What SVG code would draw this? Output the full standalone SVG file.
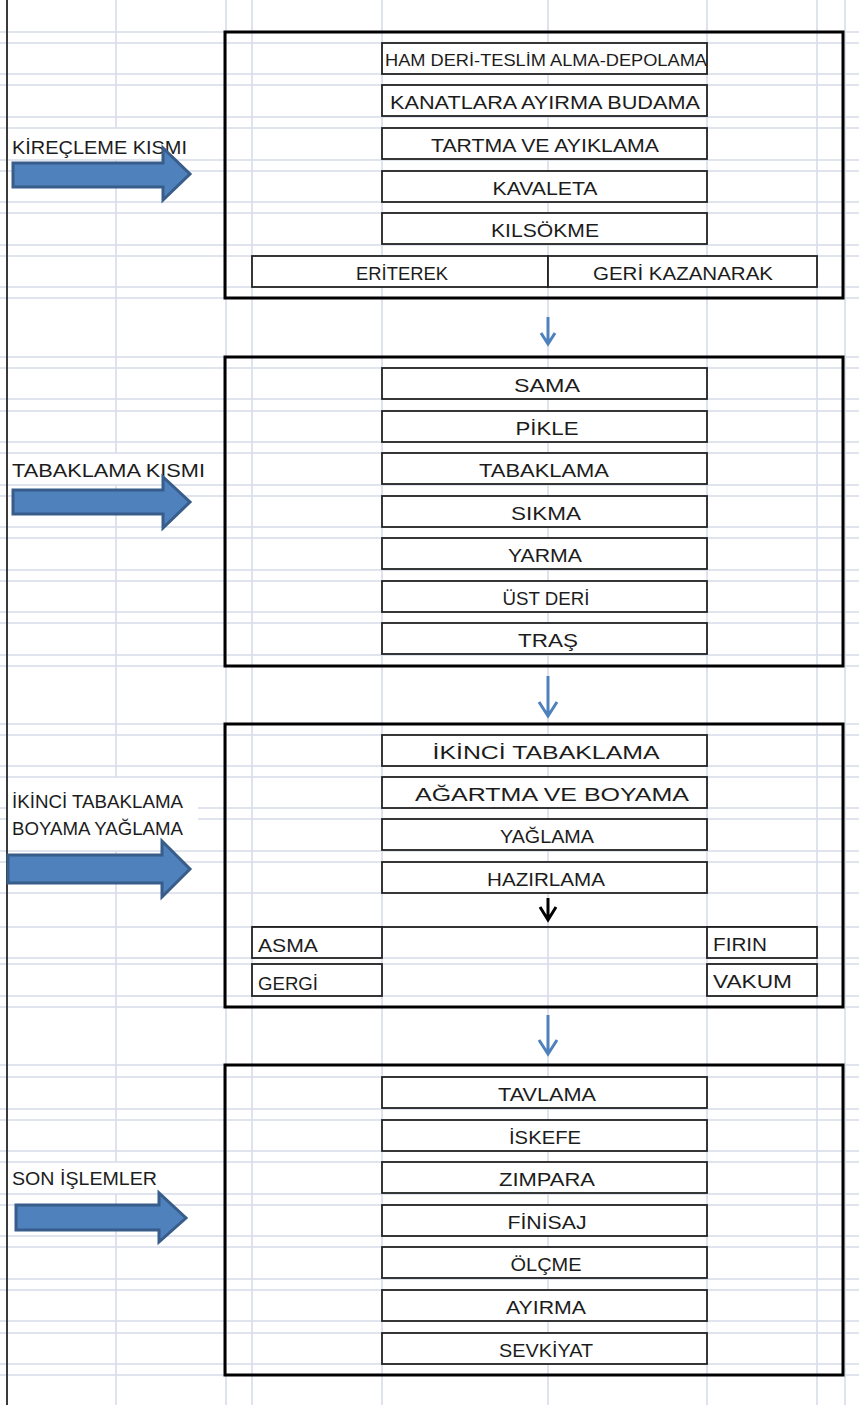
<svg xmlns="http://www.w3.org/2000/svg" width="859" height="1405" viewBox="0 0 859 1405">
<style>
.g{stroke:#D6DCE9;stroke-width:1.6;fill:none}
.ob{fill:none;stroke:#000;stroke-width:3}
.ib{fill:#fff;stroke:#222;stroke-width:1.8}
.t{font-family:"Liberation Sans",Arial,sans-serif;font-size:19px;fill:#1c1c1c}
.c{text-anchor:middle}
.ba{fill:#4F81BD;stroke:#385D8A;stroke-width:3;stroke-linejoin:miter}
.ta{fill:none;stroke:#4F81BD;stroke-width:3}
.tk{fill:none;stroke:#000;stroke-width:3}
</style>
<rect width="859" height="1405" fill="#fff"/>
<g id="grid">
<path class="g" d="M0,32H859M0,43H859M0,74H859M0,85H859M0,117H859M0,128H859M0,160H859M0,171H859M0,202H859M0,213H859M0,245H859M0,256H859M0,287H859M0,298H859M0,357H859M0,368H859M0,399H859M0,411H859M0,442H859M0,453H859M0,485H859M0,496H859M0,527H859M0,538H859M0,570H859M0,581H859M0,612H859M0,623H859M0,655H859M0,666H859M0,724H859M0,735H859M0,766H859M0,777H859M0,808H859M0,819H859M0,851H859M0,862H859M0,893H859M0,927H859M0,958H859M0,964H859M0,996H859M0,1007H859M0,1065H859M0,1077H859M0,1109H859M0,1120H859M0,1151H859M0,1162H859M0,1194H859M0,1205H859M0,1236H859M0,1247H859M0,1279H859M0,1290H859M0,1321H859M0,1333H859M0,1364H859M0,1375H859"/>
<path class="g" d="M116,0V128M116,160V453M116,485V777M116,851V1162M116,1194V1405M226,0V1405M252,0V1405M382,0V1405M548,0V1405M707,0V1405M817,0V1405M845,0V1405"/>
<rect x="8" y="779" width="190" height="62" fill="#fff"/>
<path d="M7,0V1405" stroke="#3a3a3a" stroke-width="2"/>
</g>
<g id="section1">
<rect class="ob" x="225" y="32" width="618" height="266"/>
<g id="n-hamderi"><rect class="ib" x="382" y="43" width="325" height="31"/><text class="t c" x="546" y="66" style="font-size:17px" textLength="322" lengthAdjust="spacingAndGlyphs">HAM DERİ-TESLİM ALMA-DEPOLAMA</text></g>
<g id="n-kanatlara"><rect class="ib" x="382" y="85" width="325" height="31"/><text class="t c" x="545" y="109" textLength="310" lengthAdjust="spacingAndGlyphs">KANATLARA AYIRMA BUDAMA</text></g>
<g id="n-tartma"><rect class="ib" x="382" y="128" width="325" height="31"/><text class="t c" x="545" y="152" textLength="228" lengthAdjust="spacingAndGlyphs">TARTMA VE AYIKLAMA</text></g>
<g id="n-kavaleta"><rect class="ib" x="382" y="171" width="325" height="31"/><text class="t c" x="545" y="195" textLength="105" lengthAdjust="spacingAndGlyphs">KAVALETA</text></g>
<g id="n-kilsokme"><rect class="ib" x="382" y="213" width="325" height="31"/><text class="t c" x="545" y="237" textLength="108" lengthAdjust="spacingAndGlyphs">KILSÖKME</text></g>
<g id="n-eriterek"><rect class="ib" x="252" y="256" width="296" height="31"/><text class="t c" x="402" y="280" textLength="92" lengthAdjust="spacingAndGlyphs">ERİTEREK</text></g>
<g id="n-gerikazanarak"><rect class="ib" x="548" y="256" width="269" height="31"/><text class="t c" x="683" y="280" textLength="180" lengthAdjust="spacingAndGlyphs">GERİ KAZANARAK</text></g>
</g>
<g id="section2">
<rect class="ob" x="225" y="357" width="618" height="309"/>
<g id="n-sama"><rect class="ib" x="382" y="368" width="325" height="31"/><text class="t c" x="547" y="392" textLength="66" lengthAdjust="spacingAndGlyphs">SAMA</text></g>
<g id="n-pikle"><rect class="ib" x="382" y="411" width="325" height="31"/><text class="t c" x="547" y="435" textLength="63" lengthAdjust="spacingAndGlyphs">PİKLE</text></g>
<g id="n-tabaklama"><rect class="ib" x="382" y="453" width="325" height="31"/><text class="t c" x="544" y="477" textLength="130" lengthAdjust="spacingAndGlyphs">TABAKLAMA</text></g>
<g id="n-sikma"><rect class="ib" x="382" y="496" width="325" height="31"/><text class="t c" x="546" y="520" textLength="70" lengthAdjust="spacingAndGlyphs">SIKMA</text></g>
<g id="n-yarma"><rect class="ib" x="382" y="538" width="325" height="31"/><text class="t c" x="545" y="562" textLength="74" lengthAdjust="spacingAndGlyphs">YARMA</text></g>
<g id="n-ustderi"><rect class="ib" x="382" y="581" width="325" height="31"/><text class="t c" x="546" y="605" textLength="87" lengthAdjust="spacingAndGlyphs">ÜST DERİ</text></g>
<g id="n-tras"><rect class="ib" x="382" y="623" width="325" height="31"/><text class="t c" x="548" y="647" textLength="60" lengthAdjust="spacingAndGlyphs">TRAŞ</text></g>
</g>
<g id="section3">
<rect class="ob" x="225" y="724" width="618" height="283"/>
<path d="M252,927H817" stroke="#333" stroke-width="1.8"/>
<g id="n-ikincitabaklama"><rect class="ib" x="382" y="735" width="325" height="31"/><text class="t c" x="546" y="759" textLength="227" lengthAdjust="spacingAndGlyphs">İKİNCİ TABAKLAMA</text></g>
<g id="n-agartma"><rect class="ib" x="382" y="777" width="325" height="31"/><text class="t c" x="552" y="801" textLength="274" lengthAdjust="spacingAndGlyphs">AĞARTMA VE BOYAMA</text></g>
<g id="n-yaglama"><rect class="ib" x="382" y="819" width="325" height="31"/><text class="t c" x="547" y="843" textLength="94" lengthAdjust="spacingAndGlyphs">YAĞLAMA</text></g>
<g id="n-hazirlama"><rect class="ib" x="382" y="862" width="325" height="31"/><text class="t c" x="546" y="886" textLength="118" lengthAdjust="spacingAndGlyphs">HAZIRLAMA</text></g>
<g id="n-asma"><rect class="ib" x="252" y="927" width="130" height="31"/><text class="t" x="258" y="952" textLength="60" lengthAdjust="spacingAndGlyphs">ASMA</text></g>
<g id="n-gergi"><rect class="ib" x="252" y="964" width="130" height="32"/><text class="t" x="258" y="990" textLength="60" lengthAdjust="spacingAndGlyphs">GERGİ</text></g>
<g id="n-firin"><rect class="ib" x="707" y="927" width="110" height="31"/><text class="t" x="713" y="951" textLength="54" lengthAdjust="spacingAndGlyphs">FIRIN</text></g>
<g id="n-vakum"><rect class="ib" x="707" y="964" width="110" height="32"/><text class="t" x="713" y="988" textLength="79" lengthAdjust="spacingAndGlyphs">VAKUM</text></g>
</g>
<g id="section4">
<rect class="ob" x="225" y="1065" width="618" height="310"/>
<g id="n-tavlama"><rect class="ib" x="382" y="1077" width="325" height="31"/><text class="t c" x="547" y="1101" textLength="98" lengthAdjust="spacingAndGlyphs">TAVLAMA</text></g>
<g id="n-iskefe"><rect class="ib" x="382" y="1120" width="325" height="31"/><text class="t c" x="545" y="1144" textLength="72" lengthAdjust="spacingAndGlyphs">İSKEFE</text></g>
<g id="n-zimpara"><rect class="ib" x="382" y="1162" width="325" height="31"/><text class="t c" x="547" y="1186" textLength="96" lengthAdjust="spacingAndGlyphs">ZIMPARA</text></g>
<g id="n-finisaj"><rect class="ib" x="382" y="1205" width="325" height="31"/><text class="t c" x="547" y="1229" textLength="79" lengthAdjust="spacingAndGlyphs">FİNİSAJ</text></g>
<g id="n-olcme"><rect class="ib" x="382" y="1247" width="325" height="31"/><text class="t c" x="546" y="1271" textLength="71" lengthAdjust="spacingAndGlyphs">ÖLÇME</text></g>
<g id="n-ayirma"><rect class="ib" x="382" y="1290" width="325" height="31"/><text class="t c" x="546" y="1314" textLength="80" lengthAdjust="spacingAndGlyphs">AYIRMA</text></g>
<g id="n-sevkiyat"><rect class="ib" x="382" y="1333" width="325" height="31"/><text class="t c" x="546" y="1357" textLength="94" lengthAdjust="spacingAndGlyphs">SEVKİYAT</text></g>
</g>
<g id="labels">
<g id="l-kirecleme"><text class="t" x="12" y="154" textLength="175" lengthAdjust="spacingAndGlyphs">KİREÇLEME KISMI</text><polygon class="ba" points="13,163 163,163 163,148 190,174 163,200 163,187 13,187"/></g>
<g id="l-tabaklama"><text class="t" x="12" y="477" textLength="193" lengthAdjust="spacingAndGlyphs">TABAKLAMA KISMI</text><polygon class="ba" points="13,490 163,490 163,477 190,502 163,528 163,514 13,514"/></g>
<g id="l-ikinci"><text class="t" x="12" y="808" textLength="171" lengthAdjust="spacingAndGlyphs">İKİNCİ TABAKLAMA</text><text class="t" x="12" y="835" textLength="171" lengthAdjust="spacingAndGlyphs">BOYAMA YAĞLAMA</text><polygon class="ba" points="8,855 162,855 162,841 190,869 162,897 162,883 8,883"/></g>
<g id="l-son"><text class="t" x="12" y="1185" textLength="145" lengthAdjust="spacingAndGlyphs">SON İŞLEMLER</text><polygon class="ba" points="16,1205 159,1205 159,1193 186,1218 159,1242 159,1230 16,1230"/></g>
</g>
<g id="connectors">
<path class="ta" d="M548,317V344M541,333L548,344L555,333"/>
<path class="ta" d="M548,676V716M539,702L548,716L557,702"/>
<path class="tk" d="M548,898V920M540,907L548,920L556,907"/>
<path class="ta" d="M548,1015V1054M539,1040L548,1054L557,1040"/>
</g>
</svg>
